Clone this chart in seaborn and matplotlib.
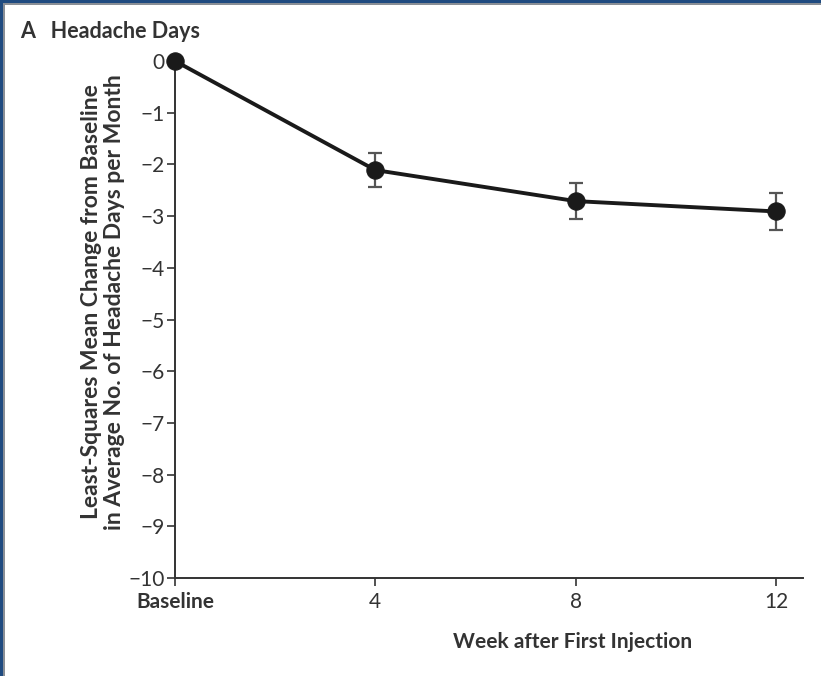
import matplotlib
matplotlib.use("Agg")
import matplotlib.pyplot as plt
import seaborn as sns
import pandas as pd
from matplotlib.patches import Rectangle

weeks = [0, 4, 8, 12]
ls_mean_change = [0.0, -2.11, -2.71, -2.91]
std_error = [0.0, 0.33, 0.35, 0.35]
x_tick_labels = ["Baseline", "4", "8", "12"]
y_ticks = list(range(0, -11, -1))

sns.set_theme(style="white")
plt.rcParams["font.family"] = ["Lato", "DejaVu Sans"]
plt.rcParams["axes.unicode_minus"] = True

df = pd.DataFrame({"week": weeks, "change": ls_mean_change, "se": std_error})

fig = plt.figure(figsize=(8.21, 6.76), dpi=100)
fig.patch.set_facecolor("white")
ax = fig.add_axes([175/821, 1-578/676, (803-175)/821, (578-61)/676])

# error bars (excluding baseline)
err_df = df[df["se"] > 0]
ax.errorbar(err_df["week"], err_df["change"], yerr=err_df["se"], fmt="none",
            ecolor="#555555", elinewidth=1.6, capsize=5, capthick=1.6, zorder=2)

sns.lineplot(data=df, x="week", y="change", ax=ax, color="#1a1a1a",
             linewidth=2.8, marker="o", markersize=12.5, markeredgecolor="#1a1a1a",
             markerfacecolor="#1a1a1a", zorder=3, clip_on=False)

ax.set_xlim(0, 12 * 628 / 601)
ax.set_ylim(-10, 0)
ax.set_xticks(weeks)
ax.set_xticklabels(x_tick_labels)
ax.set_yticks(y_ticks)
ax.set_yticklabels([("\u2212" + str(abs(v))) if v < 0 else str(v) for v in y_ticks])
for lab in ax.get_xticklabels():
    if lab.get_text() == "Baseline":
        lab.set_fontweight("bold")

for s in ["top", "right"]:
    ax.spines[s].set_visible(False)
for s in ["left", "bottom"]:
    ax.spines[s].set_color("#333333")
    ax.spines[s].set_linewidth(1.4)

ax.tick_params(axis="both", which="major", direction="out", length=6, width=1.2,
               color="#333333", labelcolor="#333333", labelsize=15,
               left=True, bottom=True)
ax.tick_params(axis="y", pad=1.5)
ax.tick_params(axis="x", pad=4)

ax.set_xlabel("")
ax.set_ylabel("")
fig.text(573/821, 1-642/676, "Week after First Injection", ha="center", va="center",
         fontsize=15, fontweight="bold", color="#333333")
fig.text(103/821, 1-302/676,
         "Least-Squares Mean Change from Baseline\nin Average No. of Headache Days per Month",
         ha="center", va="center", rotation=90, fontsize=16.5, fontweight="bold",
         color="#333333", linespacing=1.15)
fig.text(20/821, 1-32/676, "A   Headache Days", ha="left", va="center",
         fontsize=15.5, fontweight="bold", color="#333333")

# frame bars (top and left)
fig.add_artist(Rectangle((0, 1-3/676), 1, 3/676, transform=fig.transFigure,
                         facecolor="#1f4b80", edgecolor="none"))
fig.add_artist(Rectangle((0, 1-5/676), 1, 2/676, transform=fig.transFigure,
                         facecolor="#8a8f96", edgecolor="none"))
fig.add_artist(Rectangle((0, 0), 3/821, 1, transform=fig.transFigure,
                         facecolor="#1f4b80", edgecolor="none"))
fig.add_artist(Rectangle((3/821, 0), 2/821, 1-3/676, transform=fig.transFigure,
                         facecolor="#8a8f96", edgecolor="none"))

fig.savefig("out.png", dpi=100)
